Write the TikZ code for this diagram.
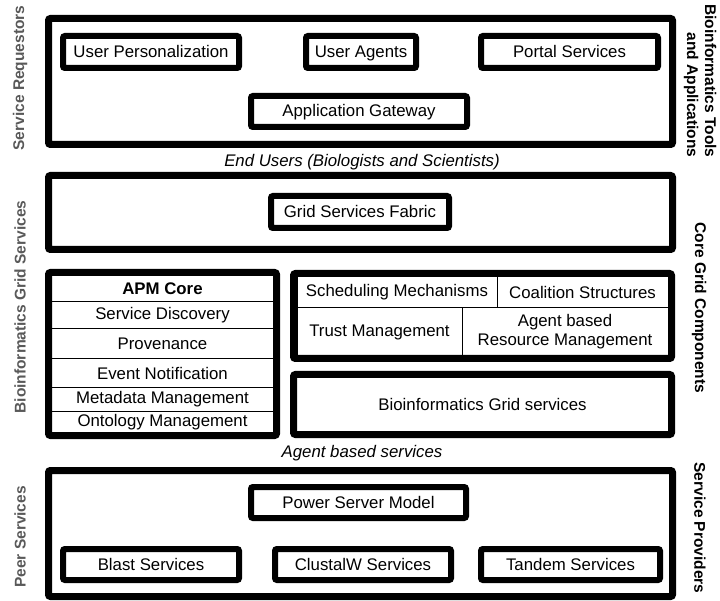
\documentclass[tikz,border=0pt]{standalone}
\usepackage{fontspec}
\setmainfont{Liberation Sans}
\usetikzlibrary{positioning}

\begin{document}
\begin{tikzpicture}[x=1pt, y=-1pt,
    layer/.style={draw, line width=7pt, rounded corners=2pt, inner sep=0pt, minimum width=624pt},
    inbox/.style={draw, line width=6pt, rounded corners=2pt, fill=white, inner sep=0pt,
        text height=12pt, text depth=1pt,
        minimum height=32pt, font=\fontsize{16.8}{19}\selectfont},
    cell/.style={draw, line width=1pt, inner sep=0pt, align=center, font=\fontsize{16.8}{19}\selectfont},
    note/.style={font=\fontsize{16.8}{19}\selectfont\itshape},
    sidelabel/.style={font=\fontsize{15.5}{19}\selectfont\bfseries, text=black!65, rotate=90},
    rolelabel/.style={font=\fontsize{15.5}{18}\selectfont\bfseries, rotate=-90, align=right, inner sep=0pt}]
    \useasboundingbox (0,0) rectangle (720,601);

    % Top layer - tools and applications
    \node[layer, minimum height=126pt] (tools) at (360.5,81.5) {};
    \node[inbox, minimum width=176pt] (person) at (151,52) {User Personalization};
    \node[inbox, minimum width=110pt] (agents) at (361,52) {User Agents};
    \node[inbox, minimum width=177pt] (portal) at (569.5,52) {Portal Services};
    \node[inbox, minimum width=216pt, minimum height=31pt] (gateway) at (359,111.5) {Application Gateway};

    \node[note] (endusers) at (362,162) {End Users (Biologists and Scientists)};

    % Grid services fabric layer
    \node[layer, minimum height=74pt] (fabric) at (360.5,212.5) {};
    \node[inbox, minimum width=178pt] (gsf) at (360,212) {Grid Services Fabric};

    % APM core stack
    \node[cell, minimum width=223pt, minimum height=26pt, font=\fontsize{16.8}{19}\selectfont\bfseries] (apm) at (162.5,289) {APM Core};
    \node[cell, minimum width=223pt, minimum height=27pt] (disc) at (162.5,315.5) {Service Discovery};
    \node[cell, minimum width=223pt, minimum height=30pt] (prov) at (162.5,344) {Provenance};
    \node[cell, minimum width=223pt, minimum height=28pt] (event) at (162.5,373) {Event Notification};
    \node[cell, minimum width=223pt, minimum height=24pt] (meta) at (162.5,399) {Metadata Management};
    \node[cell, minimum width=223pt, minimum height=22pt] (onto) at (162.5,422) {Ontology Management};
    \node[layer, minimum width=228pt, minimum height=163pt] (apmbox) at (162.5,354) {};

    % Core grid components
    \node[cell, minimum width=200pt, minimum height=32pt] (sched) at (397,292) {Scheduling Mechanisms};
    \node[cell, minimum width=171pt, minimum height=32pt] (coal) at (582.5,292) {Coalition Structures};
    \node[cell, minimum width=165pt, minimum height=48pt] (trust) at (379.5,332) {Trust Management};
    \node[cell, minimum width=206pt, minimum height=48pt] (arm) at (565,332) {Agent based\\Resource Management};
    \node[layer, minimum width=378pt, minimum height=85pt] (corebox) at (482.5,316) {};
    \node[layer, minimum width=378pt, minimum height=60pt, font=\fontsize{16.8}{19}\selectfont] (bgs) at (482.5,404.5) {Bioinformatics Grid services};

    \node[note] (agentsvc) at (362,453) {Agent based services};

    % Bottom layer - peer services
    \node[layer, minimum height=126pt] (peer) at (360.5,533.5) {};
    \node[inbox, minimum width=215pt, minimum height=31pt] (psm) at (358.5,502.5) {Power Server Model};
    \node[inbox, minimum width=176pt, minimum height=31pt] (blast) at (151,564.5) {Blast Services};
    \node[inbox, minimum width=176pt, minimum height=31pt] (clustal) at (363,564.5) {ClustalW Services};
    \node[inbox, minimum width=179pt, minimum height=31pt] (tandem) at (570.5,564.5) {Tandem Services};

    % Side labels
    \node[sidelabel] (requestors) at (20,78) {Service Requestors};
    \node[sidelabel] (biogrid) at (20,307) {Bioinformatics Grid Services};
    \node[sidelabel] (peerlabel) at (20,537) {Peer Services};
    \node[rolelabel] (toolslabel) at (700,81) {Bioinformatics Tools\\and Applications};
    \node[rolelabel] (corelabel) at (699,308) {Core Grid Components};
    \node[rolelabel] (providers) at (700,528) {Service Providers};
\end{tikzpicture}
\end{document}
